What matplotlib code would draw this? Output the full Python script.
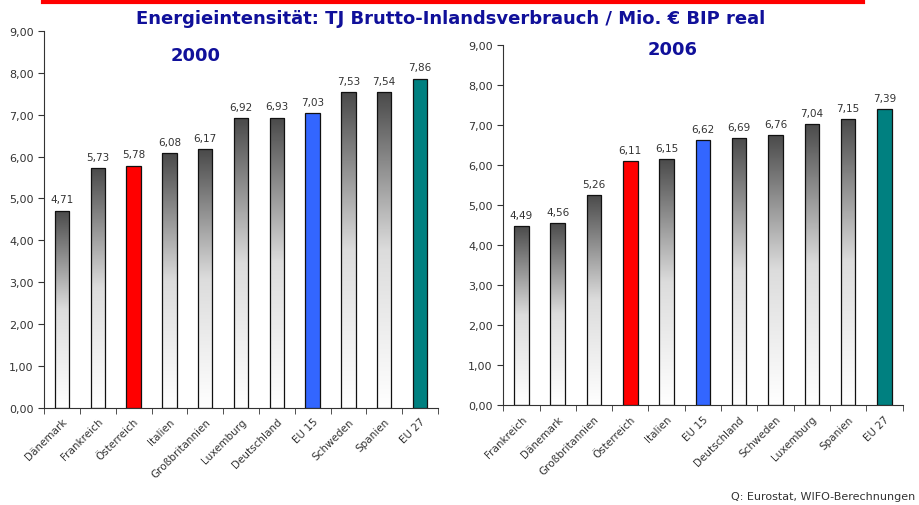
import numpy as np
import matplotlib
matplotlib.use('Agg')
import matplotlib.pyplot as plt
from matplotlib.colors import LinearSegmentedColormap
from matplotlib.lines import Line2D

plt.rcParams['font.family'] = ['DejaVu Sans']

countries_2000 = ['Dänemark', 'Frankreich', 'Österreich', 'Italien', 'Großbritannien',
                  'Luxemburg', 'Deutschland', 'EU 15', 'Schweden', 'Spanien', 'EU 27']
values_2000 = [4.71, 5.73, 5.78, 6.08, 6.17, 6.92, 6.93, 7.03, 7.53, 7.54, 7.86]

countries_2006 = ['Frankreich', 'Dänemark', 'Großbritannien', 'Österreich', 'Italien',
                  'EU 15', 'Deutschland', 'Schweden', 'Luxemburg', 'Spanien', 'EU 27']
values_2006 = [4.49, 4.56, 5.26, 6.11, 6.15, 6.62, 6.69, 6.76, 7.04, 7.15, 7.39]

highlight = {'Österreich': '#ff0000', 'EU 15': '#3366ff', 'EU 27': '#008080'}
navy = '#10109a'
grad = LinearSegmentedColormap.from_list('grad', ['#ffffff', '#dcdcdc', '#4a4a4a'])


def fmt(v):
    return f'{v:.2f}'.replace('.', ',')


def draw(ax, names, vals, year, year_xy):
    x = np.arange(len(names))
    bars = ax.bar(x, vals, width=0.4, color='none', edgecolor='#111111',
                  linewidth=0.9, zorder=3)
    for b, n, v in zip(bars, names, vals):
        if n in highlight:
            b.set_facecolor(highlight[n])
        else:
            x0 = b.get_x()
            img = ax.imshow(np.linspace(0, 1, 256).reshape(-1, 1), cmap=grad,
                            extent=[x0, x0 + b.get_width(), 0, v], origin='lower',
                            aspect='auto', zorder=2)
            img.set_clip_path(b)
        ax.text(b.get_x() + b.get_width() / 2, v + 0.15, fmt(v), ha='center',
                va='bottom', fontsize=7.5, color='#333333')
    ax.set_xlim(-0.5, len(names) - 0.5)
    ax.set_ylim(0, 9)
    ax.set_yticks(np.arange(0, 10, 1))
    ax.set_yticklabels([fmt(t) for t in range(10)], fontsize=8, color='#333333')
    ax.set_xticks(x)
    ax.set_xticklabels(names, rotation=45, ha='right', rotation_mode='anchor',
                       fontsize=7.5, color='#333333')
    ax.tick_params(axis='x', length=0, pad=6)
    ax.set_xticks(np.arange(-0.5, len(names)), minor=True)
    ax.tick_params(axis='x', which='minor', length=4, color='#333333')
    ax.tick_params(axis='y', length=4, color='#333333')
    for s in ['top', 'right']:
        ax.spines[s].set_visible(False)
    ax.spines['left'].set_color('#333333')
    ax.spines['bottom'].set_color('#333333')
    ax.text(year_xy[0], year_xy[1], year, transform=ax.transAxes, fontsize=13,
            fontweight='bold', color=navy, ha='center', va='center')


fig = plt.figure(figsize=(9.2, 5.06), dpi=100)
ax1 = fig.add_axes([0.048, 0.192, 0.428, 0.745])
ax2 = fig.add_axes([0.547, 0.197, 0.434, 0.712])

draw(ax1, countries_2000, values_2000, '2000', (0.385, 0.935))
draw(ax2, countries_2006, values_2006, '2006', (0.425, 0.99))

fig.add_artist(Line2D([0.047, 0.938], [0.994, 0.994], color='#ff0000', linewidth=3))
fig.text(0.49, 0.963, 'Energieintensität: TJ Brutto-Inlandsverbrauch / Mio. € BIP real',
         ha='center', va='center', fontsize=13, fontweight='bold', color=navy)
fig.text(0.995, 0.018, 'Q: Eurostat, WIFO-Berechnungen', ha='right', va='center',
         fontsize=8, color='#333333')

fig.savefig('out.png', dpi=100)
